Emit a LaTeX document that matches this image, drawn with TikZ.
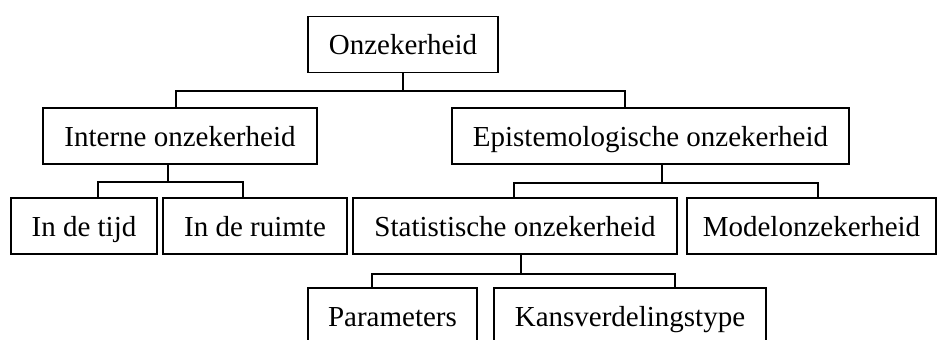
\documentclass[tikz,border=0pt]{standalone}
\usepackage{fontspec}
\setmainfont{Liberation Serif}
\usetikzlibrary{calc}

\begin{document}
\begin{tikzpicture}[
      x=0.5pt, y=-0.5pt,
      font=\fontsize{14.5}{17}\selectfont,
      box/.style={draw, line width=0.6pt, inner sep=0pt, minimum height=28pt,
                  text height=13.5pt, text depth=3pt},
      tree/.style={draw, line width=1pt},
    ]
    \clip (0,0) rectangle (937,340);

    % top level
    \node[box, minimum width=95pt] (root) at (403,44.5) {Onzekerheid};

    \node[box, minimum width=137pt] (intern) at (180,136) {Interne onzekerheid};
    \node[box, minimum width=198.5pt] (epist) at (650.5,136) {Epistemologische onzekerheid};

    \node[box, minimum width=73pt] (tijd) at (84,226) {In de tijd};
    \node[box, minimum width=92pt] (ruimte) at (255,226) {In de ruimte};
    \node[box, minimum width=162pt] (stat) at (515,226) {Statistische onzekerheid};
    \node[box, minimum width=124.5pt] (model) at (811.5,226) {Modelonzekerheid};

    \node[box, minimum width=84.5pt] (param) at (392.5,316) {Parameters};
    \node[box, minimum width=136pt] (kans) at (630,316) {Kansverdelingstype};

    % connectors
    \draw[tree] (root.south) -- ++(0,18) -| ($(intern.north)+(-4,0)$);
    \draw[tree] (root.south) -- ++(0,18) -| ($(epist.north)+(-26,0)$);

    \draw[tree] ($(intern.south)+(-12,0)$) -- ++(0,17) -| ($(tijd.north)+(14,0)$);
    \draw[tree] ($(intern.south)+(-12,0)$) -- ++(0,17) -| ($(ruimte.north)+(-12,0)$);

    \draw[tree] ($(epist.south)+(11.5,0)$) -- ++(0,18) -| ($(stat.north)+(-1,0)$);
    \draw[tree] ($(epist.south)+(11.5,0)$) -- ++(0,18) -| ($(model.north)+(6.5,0)$);

    \draw[tree] ($(stat.south)+(6,0)$) -- ++(0,19) -| ($(param.north)+(-20.5,0)$);
    \draw[tree] ($(stat.south)+(6,0)$) -- ++(0,19) -| ($(kans.north)+(45,0)$);
  \end{tikzpicture}
\end{document}
